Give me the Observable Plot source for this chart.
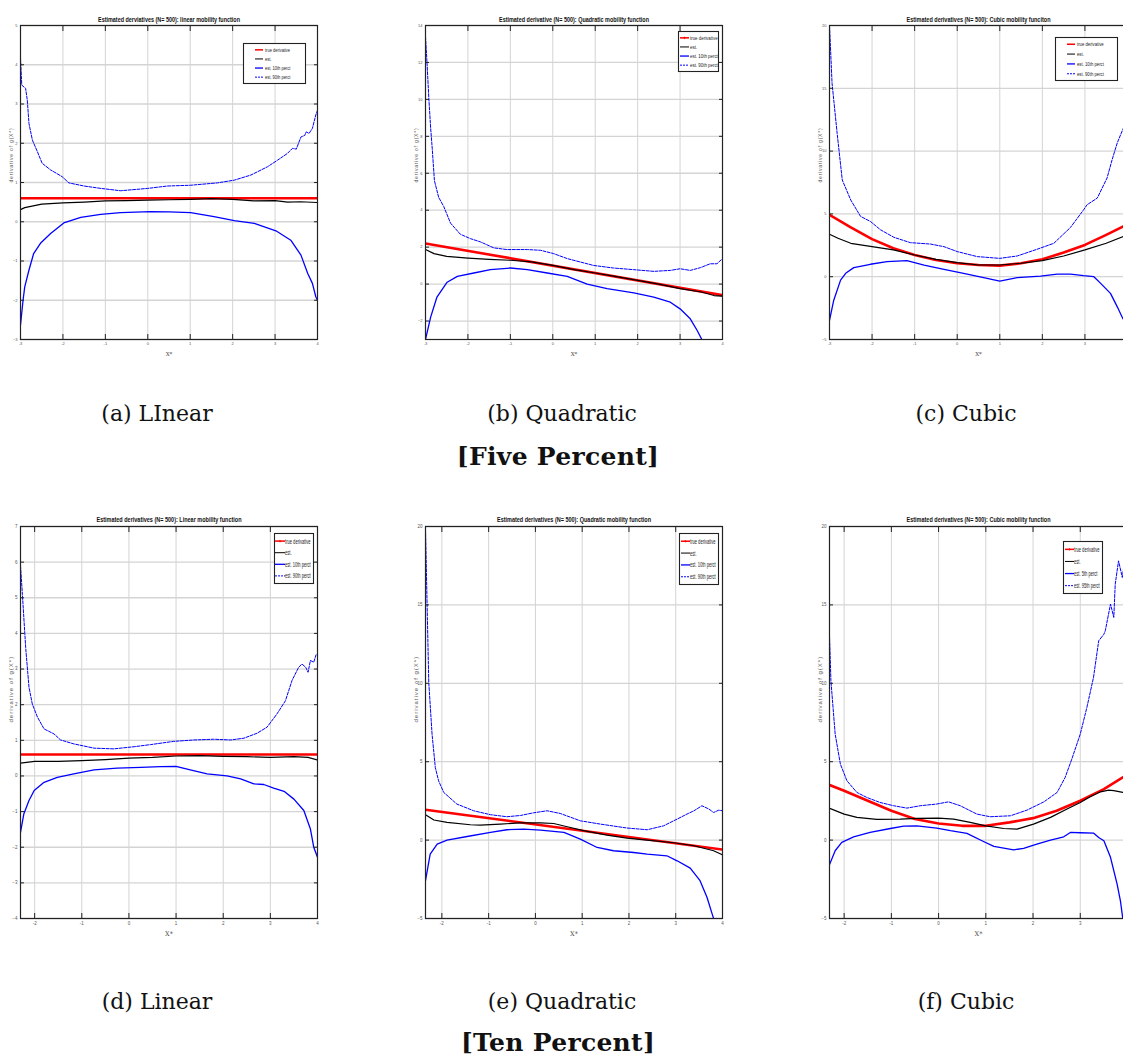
<!DOCTYPE html>
<html><head><meta charset="utf-8">
<script src="https://cdn.jsdelivr.net/npm/d3@7"></script>
<script src="https://cdn.jsdelivr.net/npm/@observablehq/plot@0.6"></script>
<style>
html,body{margin:0;padding:0;background:#fff;}
body{position:relative;width:1123px;height:1061px;overflow:hidden;}
.pane{position:absolute;}
.cap{position:absolute;font-family:"DejaVu Serif",serif;font-size:22px;white-space:nowrap;transform:translateX(-50%);line-height:1;color:#111;}
.grp{font-weight:bold;font-size:25px;letter-spacing:0.3px;}
</style></head><body>
<script>
// ---------- data ----------
const titles = [
  "Estimated derviatives (N= 500): linear mobility function",
  "Estimated derivative (N= 500): Quadratic mobility function",
  "Estimated derivatives (N= 500): Cubic mobility funciton",
  "Estimated derivatives (N= 500): Linear mobility function",
  "Estimated derivatives (N= 500): Quadratic mobility function",
  "Estimated derivatives (N= 500): Cubic mobility function"
];
const captions = ["(a)  LInear", "(b)  Quadratic", "(c)  Cubic", "(d)  Linear", "(e)  Quadratic", "(f)  Cubic"];
const groupLabels = ["[Five Percent]", "[Ten Percent]"];
const yLabel = "derivative of g(X*)";
const xLabel = "X*";
const legend10 = ["true derivative", "est.", "est. 10th perct", "est. 90th perct"];
const legend5 = ["true derivative", "est.", "est. 5th perct", "est. 95th perct"];

const ticksX7 = [-3, -2, -1, 0, 1, 2, 3, 4];
const ticksX6 = [-2, -1, 0, 1, 2, 3, 4];
const ticksYa = [-3, -2, -1, 0, 1, 2, 3, 4, 5];
const ticksYb = [-2, 0, 2, 4, 6, 8, 10, 12, 14];
const ticksY5 = [-5, 0, 5, 10, 15, 20];
const ticksYd = [-4, -3, -2, -1, 0, 1, 2, 3, 4, 5, 6, 7];

// Panel (a) linear, 5%
const aTrue = [[-3,0.6],[4,0.6]];
const aEst = [[-3,0.31],[-2.9,0.36],[-2.5,0.45],[-2,0.48],[-1.5,0.5],[-1,0.53],[-0.5,0.54],[0,0.55],[0.5,0.56],[1,0.57],[1.5,0.59],[2,0.57],[2.5,0.53],[3,0.54],[3.3,0.5],[3.6,0.51],[4,0.49]];
const aP10 = [[-3,-2.63],[-2.94,-2.0],[-2.9,-1.66],[-2.8,-1.23],[-2.69,-0.81],[-2.53,-0.55],[-2.29,-0.3],[-1.98,-0.03],[-1.58,0.11],[-1.11,0.19],[-0.64,0.23],[0.07,0.26],[0.5,0.25],[1.01,0.23],[1.56,0.13],[2.04,0.03],[2.51,-0.04],[3.02,-0.23],[3.37,-0.47],[3.61,-0.85],[3.77,-1.32],[3.88,-1.57],[3.96,-1.91],[4,-2.0]];
const aP90 = [[-3,4.16],[-2.97,3.48],[-2.88,3.4],[-2.84,3.1],[-2.8,2.5],[-2.72,2.08],[-2.6,1.78],[-2.49,1.49],[-2.29,1.32],[-2.02,1.15],[-1.86,0.99],[-1.5,0.91],[-1.11,0.85],[-0.64,0.79],[0,0.85],[0.46,0.91],[1.01,0.93],[1.64,0.99],[2.04,1.06],[2.43,1.19],[2.82,1.4],[3.06,1.57],[3.29,1.74],[3.41,1.87],[3.5,1.85],[3.61,2.16],[3.7,2.2],[3.73,2.29],[3.8,2.25],[3.88,2.38],[3.96,2.72],[4,2.84]];

// Panel (b) quadratic, 5%
const bTrue = [[-3,2.2],[4,-0.6]];
const bEst = [[-3,1.87],[-2.8,1.65],[-2.5,1.5],[-2,1.41],[-1.5,1.34],[-1,1.29],[-0.5,1.2],[0,1.01],[0.5,0.78],[1,0.6],[1.5,0.4],[2,0.2],[2.5,0],[3,-0.25],[3.5,-0.43],[3.8,-0.62],[4,-0.65]];
const bP10 = [[-3,-3.0],[-2.88,-1.8],[-2.73,-0.7],[-2.49,0.1],[-2.25,0.42],[-1.86,0.6],[-1.47,0.78],[-1.0,0.87],[-0.6,0.78],[-0.13,0.6],[0.34,0.42],[0.81,0.0],[1.28,-0.25],[1.91,-0.47],[2.38,-0.7],[2.77,-0.98],[3.0,-1.34],[3.24,-1.88],[3.4,-2.5],[3.52,-3.03],[3.6,-3.4]];
const bP90 = [[-3,13.4],[-2.96,11.8],[-2.92,10],[-2.88,8.5],[-2.84,7.3],[-2.79,5.6],[-2.69,4.7],[-2.57,4.2],[-2.41,3.3],[-2.18,2.7],[-1.94,2.46],[-1.7,2.28],[-1.39,1.96],[-1.08,1.87],[-0.6,1.87],[-0.29,1.83],[0.02,1.65],[0.34,1.38],[0.96,1.01],[1.43,0.87],[1.91,0.78],[2.38,0.69],[2.77,0.74],[3.0,0.83],[3.24,0.74],[3.48,0.89],[3.71,1.1],[3.87,1.1],[4,1.38]];

// Panel (c) cubic, 5%
const cTrue = [[-3,4.93],[-2.5,3.92],[-2,2.99],[-1.5,2.27],[-1,1.73],[-0.5,1.33],[0,1.07],[0.5,0.93],[1,0.88],[1.5,1.07],[2,1.39],[2.5,1.92],[3,2.53],[3.5,3.33],[3.9,4.0],[4,4.2]];
const cEst = [[-3,3.38],[-2.8,3.06],[-2.5,2.66],[-2,2.39],[-1.5,2.13],[-1,1.73],[-0.5,1.38],[0,1.12],[0.5,0.93],[1,0.93],[1.5,1.07],[2,1.28],[2.5,1.65],[3,2.13],[3.5,2.66],[3.9,3.2],[4,3.3]];
const cP10 = [[-3,-3.47],[-2.9,-1.87],[-2.74,-0.27],[-2.62,0.27],[-2.43,0.72],[-2.04,0.99],[-1.65,1.2],[-1.18,1.28],[-0.78,0.93],[-0.31,0.59],[0.15,0.27],[0.62,-0.08],[1,-0.35],[1.41,-0.08],[1.96,0.05],[2.35,0.21],[2.66,0.21],[2.97,0.08],[3.21,0],[3.37,-0.53],[3.6,-1.33],[3.76,-2.4],[3.89,-3.33],[4,-3.8]];
const cP90 = [[-3,20],[-2.94,15.4],[-2.82,11.4],[-2.7,7.7],[-2.5,6.1],[-2.27,4.8],[-2.04,4.4],[-1.8,3.73],[-1.49,3.14],[-1.1,2.71],[-0.63,2.6],[-0.31,2.39],[0,2.0],[0.47,1.6],[1,1.46],[1.41,1.65],[1.88,2.19],[2.27,2.66],[2.66,3.92],[2.97,5.33],[3.05,5.73],[3.29,6.26],[3.52,7.86],[3.64,9.33],[3.76,10.66],[3.89,11.73],[4,12.5]];

// Panel (d) linear, 10%
const dTrue = [[-2.3,0.6],[4,0.6]];
const dEst = [[-2.3,0.36],[-2,0.41],[-1.5,0.41],[-1,0.43],[-0.5,0.46],[0,0.5],[0.5,0.52],[1,0.56],[1.5,0.57],[2,0.55],[2.5,0.54],[3,0.52],[3.5,0.54],[3.8,0.52],[4,0.45]];
const dP10 = [[-2.3,-1.58],[-2.23,-1.07],[-2.12,-0.69],[-2.01,-0.41],[-1.8,-0.18],[-1.52,-0.04],[-1.17,0.06],[-0.74,0.17],[-0.25,0.22],[0.25,0.24],[0.67,0.26],[1,0.27],[1.3,0.17],[1.66,0.06],[2.08,0],[2.37,-0.08],[2.65,-0.22],[2.86,-0.24],[3.07,-0.34],[3.29,-0.43],[3.5,-0.65],[3.71,-0.97],[3.85,-1.49],[3.92,-2.0],[4,-2.28]];
const dP90 = [[-2.3,5.9],[-2.26,5.1],[-2.19,3.6],[-2.12,2.49],[-2.05,2.02],[-1.94,1.65],[-1.8,1.32],[-1.59,1.18],[-1.45,1.01],[-1.17,0.9],[-0.74,0.78],[-0.32,0.76],[0.11,0.82],[0.46,0.88],[0.95,0.97],[1.38,1.01],[1.8,1.03],[2.16,1.01],[2.44,1.06],[2.72,1.2],[2.93,1.37],[3.14,1.74],[3.32,2.11],[3.46,2.68],[3.6,3.05],[3.67,3.14],[3.75,3.05],[3.8,2.91],[3.85,3.24],[3.92,3.19],[3.97,3.4]];

// Panel (e) quadratic, 10%
const eTrue = [[-2.35,1.94],[4,-0.6]];
const eEst = [[-2.35,1.62],[-2.17,1.28],[-1.89,1.13],[-1.39,0.98],[-1.18,0.96],[-0.75,1.02],[-0.32,1.1],[0.11,1.1],[0.39,1.06],[0.68,0.85],[1.03,0.6],[1.53,0.32],[1.96,0.13],[2.39,0],[2.96,-0.17],[3.39,-0.36],[3.81,-0.68],[4,-0.94]];
const eP10 = [[-2.35,-2.59],[-2.25,-0.89],[-2.1,-0.26],[-1.89,0],[-1.46,0.23],[-0.96,0.49],[-0.61,0.66],[-0.25,0.7],[0.11,0.64],[0.61,0.49],[0.96,0.06],[1.32,-0.47],[1.67,-0.68],[2.1,-0.79],[2.39,-0.89],[2.81,-1.0],[3.03,-1.32],[3.31,-1.79],[3.52,-2.59],[3.67,-3.66],[3.78,-4.72],[3.81,-5.0]];
const eP90 = [[-2.35,19.83],[-2.31,14.2],[-2.28,10.05],[-2.21,6.76],[-2.14,4.63],[-2.07,3.78],[-1.96,3.04],[-1.68,2.3],[-1.32,1.87],[-0.96,1.62],[-0.61,1.49],[-0.32,1.57],[-0.04,1.74],[0.25,1.87],[0.53,1.7],[0.96,1.23],[1.39,1.02],[1.96,0.77],[2.39,0.66],[2.74,0.91],[3.03,1.34],[3.24,1.66],[3.39,1.87],[3.56,2.19],[3.71,1.98],[3.81,1.76],[3.92,1.91],[4,1.87]];

// Panel (f) cubic, 10%
const fTrue = [[-2.32,3.53],[-2,3.15],[-1.5,2.51],[-1,1.87],[-0.5,1.34],[0,1.06],[0.5,0.91],[1,0.91],[1.5,1.13],[2,1.4],[2.5,1.87],[3,2.51],[3.5,3.25],[3.9,4.0],[4,4.2]];
const fEst = [[-2.32,2.04],[-2,1.66],[-1.73,1.45],[-1.31,1.32],[-0.81,1.34],[-0.46,1.38],[0,1.4],[0.32,1.34],[0.67,1.13],[1,0.91],[1.38,0.74],[1.66,0.7],[2.01,1.02],[2.37,1.45],[2.72,1.98],[3.0,2.4],[3.21,2.76],[3.43,3.08],[3.6,3.19],[3.71,3.15],[3.9,3.04],[4,3.0]];
const fP5 = [[-2.32,-1.64],[-2.19,-0.68],[-2.05,-0.15],[-1.8,0.21],[-1.45,0.49],[-1.02,0.74],[-0.74,0.89],[-0.46,0.91],[-0.04,0.77],[0.25,0.6],[0.6,0.43],[0.95,-0.09],[1.17,-0.4],[1.59,-0.62],[1.8,-0.53],[2.08,-0.26],[2.37,0],[2.65,0.21],[2.79,0.49],[3.0,0.47],[3.28,0.45],[3.39,0.17],[3.5,-0.04],[3.64,-1.1],[3.78,-2.81],[3.85,-3.87],[3.9,-5.0]];
const fP95 = [[-2.32,13.98],[-2.28,10.16],[-2.19,6.76],[-2.08,4.85],[-1.94,3.78],[-1.73,3.04],[-1.52,2.72],[-1.24,2.4],[-0.95,2.19],[-0.67,2.04],[-0.39,2.19],[-0.04,2.3],[0.21,2.44],[0.46,2.19],[0.81,1.66],[1.09,1.49],[1.52,1.55],[1.87,1.91],[2.23,2.44],[2.51,3.04],[2.68,4.0],[2.82,5.16],[3.0,6.76],[3.14,8.46],[3.28,10.37],[3.39,12.71],[3.5,13.13],[3.53,13.35],[3.64,15.05],[3.71,14.2],[3.74,16.32],[3.81,17.81],[3.89,16.75],[3.92,17.39],[4,17.0]];

// ---------- layout ----------
const panels = [
  {left:0,   top:0,   w:340, h:362, ml:20, mr:23, mt:25, mb:23, xd:[-3,4],    yd:[-3,5],  xt:ticksX7, yt:ticksYa, s:[aTrue,aEst,aP10,aP90], title:0, tw:142, tfs:7, big:false, xmaxLab:4,
   lg:{left:243,top:43,w:63,h:41,s0:12,s1:20,tx:22,fs:5,sx:0.8,labels:legend10,plus:false}},
  {left:380, top:0,   w:360, h:362, ml:45, mr:18, mt:25, mb:23, xd:[-3,4],    yd:[-3,14], xt:ticksX7, yt:ticksYb, s:[bTrue,bEst,bP10,bP90], title:1, tw:150, tfs:7, big:false, xmaxLab:4,
   lg:{left:678,top:31,w:41,h:41,s0:2,s1:11,tx:12,fs:5.5,sx:0.8,labels:legend10,plus:true}},
  {left:790, top:0,   w:360, h:362, ml:39, mr:23, mt:25, mb:23, xd:[-3,4],    yd:[-5,20], xt:ticksX7, yt:ticksY5, s:[cTrue,cEst,cP10,cP90], title:2, tw:144, tfs:7, big:false, xmaxLab:3,
   lg:{left:1055,top:37,w:63,h:44,s0:12,s1:20,tx:22,fs:5,sx:0.85,labels:legend10,plus:false}},
  {left:0,   top:500, w:340, h:450, ml:20, mr:23, mt:26, mb:32, xd:[-2.3,4],  yd:[-4,7],  xt:ticksX6, yt:ticksYd, s:[dTrue,dEst,dP10,dP90], title:3, tw:145, tfs:8, big:true, xmaxLab:4,
   lg:{left:274,top:533,w:40,h:51,s0:1,s1:11,tx:11,fs:7,sx:0.58,labels:legend10,plus:true}},
  {left:380, top:500, w:360, h:450, ml:45, mr:18, mt:26, mb:32, xd:[-2.35,4], yd:[-5,20], xt:ticksX6, yt:ticksY5, s:[eTrue,eEst,eP10,eP90], title:4, tw:154, tfs:8, big:true, xmaxLab:4,
   lg:{left:679,top:533,w:40,h:52,s0:2,s1:11,tx:11,fs:7,sx:0.58,labels:legend10,plus:true}},
  {left:790, top:500, w:360, h:450, ml:39, mr:23, mt:26, mb:32, xd:[-2.31,4], yd:[-5,20], xt:ticksX6, yt:ticksY5, s:[fTrue,fEst,fP5,fP95], title:5, tw:144, tfs:8, big:true, xmaxLab:3,
   lg:{left:1063,top:541,w:40,h:53,s0:2,s1:11,tx:11,fs:7,sx:0.58,labels:legend5,plus:true}}
];

const X = d => d[0], Y = d => d[1];
const sans = "'Liberation Sans', Arial, Helvetica, sans-serif";

function setAttrs(svg, content, attrs) {
  svg.querySelectorAll("text").forEach(t => {
    if (t.textContent === content) for (const k in attrs) t.setAttribute(k, attrs[k]);
  });
}

panels.forEach(p => {
  const [sTrue, sEst, sLo, sHi] = p.s;
  const tickFs = p.big ? 4.5 : 4;
  const svg = Plot.plot({
    width: p.w, height: p.h,
    marginLeft: p.ml, marginRight: p.mr, marginTop: p.mt, marginBottom: p.mb,
    style: {background: "white", fontFamily: sans, color: "#444", maxWidth: "none", overflow: "visible"},
    x: {domain: p.xd},
    y: {domain: p.yd},
    marks: [
      Plot.gridX(p.xt, {stroke: "#d4d4d4", strokeOpacity: 1, strokeWidth: 1}),
      Plot.gridY(p.yt, {stroke: "#d4d4d4", strokeOpacity: 1, strokeWidth: 1.3}),
      Plot.line(sTrue, {x: X, y: Y, stroke: "#ff0000", strokeWidth: 2.6, clip: true}),
      Plot.line(sEst, {x: X, y: Y, stroke: "#000000", strokeWidth: 1.2, clip: true}),
      Plot.line(sLo, {x: X, y: Y, stroke: "#0000ff", strokeWidth: 1.3, clip: true}),
      Plot.line(sHi, {x: X, y: Y, stroke: "#0000ff", strokeWidth: 1, strokeDasharray: "3,1.4", clip: true}),
      Plot.frame({stroke: "#222", strokeWidth: 1.2}),
      Plot.axisX(p.xt, {anchor: "bottom", tickSize: -5, tickPadding: 8, fontSize: tickFs, label: null, stroke: "#222", fill: "#555",
        tickFormat: v => (v <= p.xmaxLab ? String(v) : "")}),
      Plot.axisX(p.xt, {anchor: "top", tickSize: -5, tickFormat: () => "", label: null, stroke: "#222"}),
      Plot.axisY(p.yt, {anchor: "left", tickSize: -4, tickPadding: 7, fontSize: tickFs, label: null, stroke: "#222", fill: "#555"}),
      Plot.axisY(p.yt, {anchor: "right", tickSize: -4, tickFormat: () => "", label: null, stroke: "#222"}),
      Plot.text([titles[p.title]], {frameAnchor: "top", dy: p.big ? -10 : -8, fontSize: p.tfs, fontWeight: "bold", fill: "#111", text: d => d}),
      Plot.text([yLabel], {frameAnchor: "left", rotate: -90, dx: -9, fontSize: p.big ? 6 : 5, fill: "#555", text: d => d}),
      Plot.text([xLabel], {frameAnchor: "bottom", dy: p.big ? 17 : 16, fontSize: p.big ? 6.5 : 5.5, fill: "#444", fontFamily: "'DejaVu Serif', serif", text: d => d})
    ]
  });
  setAttrs(svg, titles[p.title], {textLength: p.tw, lengthAdjust: "spacingAndGlyphs"});
  setAttrs(svg, yLabel, {"letter-spacing": p.big ? "1px" : "0.8px"});
  const div = document.createElement("div");
  div.className = "pane";
  div.style.left = p.left + "px";
  div.style.top = p.top + "px";
  div.style.width = p.w + "px";
  div.appendChild(svg);
  document.body.appendChild(div);

  // legend box
  const L = p.lg;
  const lsv = d3.create("svg").attr("width", L.w).attr("height", L.h)
    .style("position", "absolute").style("left", L.left + "px").style("top", L.top + "px").style("overflow", "visible");
  lsv.append("rect").attr("x", 0.5).attr("y", 0.5).attr("width", L.w - 1).attr("height", L.h - 1)
    .attr("fill", "white").attr("stroke", "#222").attr("stroke-width", 1.1);
  const st = [
    {c: "#ff0000", w: 1.5, dash: null},
    {c: "#000000", w: 1, dash: null},
    {c: "#0000ff", w: 1.3, dash: null},
    {c: "#0000ff", w: 1, dash: "2,1"}
  ];
  const pad = 2.3;
  const step = (L.h - 2 * pad) / 4;
  L.labels.forEach((lab, i) => {
    const y = pad + step * (i + 0.5);
    const l = lsv.append("line").attr("x1", L.s0).attr("x2", L.s1).attr("y1", y).attr("y2", y)
      .attr("stroke", st[i].c).attr("stroke-width", st[i].w);
    if (st[i].dash) l.attr("stroke-dasharray", st[i].dash);
    if (i === 0 && L.plus) {
      const m = (L.s0 + L.s1) / 2;
      lsv.append("path").attr("d", `M${m-1.2},${y}H${m+1.2}M${m},${y-1.2}V${y+1.2}`).attr("stroke", "#ff0000").attr("stroke-width", 0.7);
    }
    lsv.append("g").attr("transform", `translate(${L.tx},${y}) scale(${L.sx},1)`)
      .append("text").attr("dy", "0.35em").attr("font-size", L.fs).attr("font-family", sans)
      .attr("fill", "#222").text(lab);
  });
  document.body.appendChild(lsv.node());
});

// ---------- captions ----------
const capPos = [[157, 403], [562, 403], [966, 403], [157, 991], [562, 991], [966, 991]];
captions.forEach((c, i) => {
  const d = document.createElement("div");
  d.className = "cap";
  d.style.left = capPos[i][0] + "px";
  d.style.top = capPos[i][1] + "px";
  d.textContent = c;
  document.body.appendChild(d);
});
const grpPos = [[558, 444], [558, 1030]];
groupLabels.forEach((g, i) => {
  const d = document.createElement("div");
  d.className = "cap grp";
  d.style.left = grpPos[i][0] + "px";
  d.style.top = grpPos[i][1] + "px";
  d.textContent = g;
  document.body.appendChild(d);
});
</script></body></html>
